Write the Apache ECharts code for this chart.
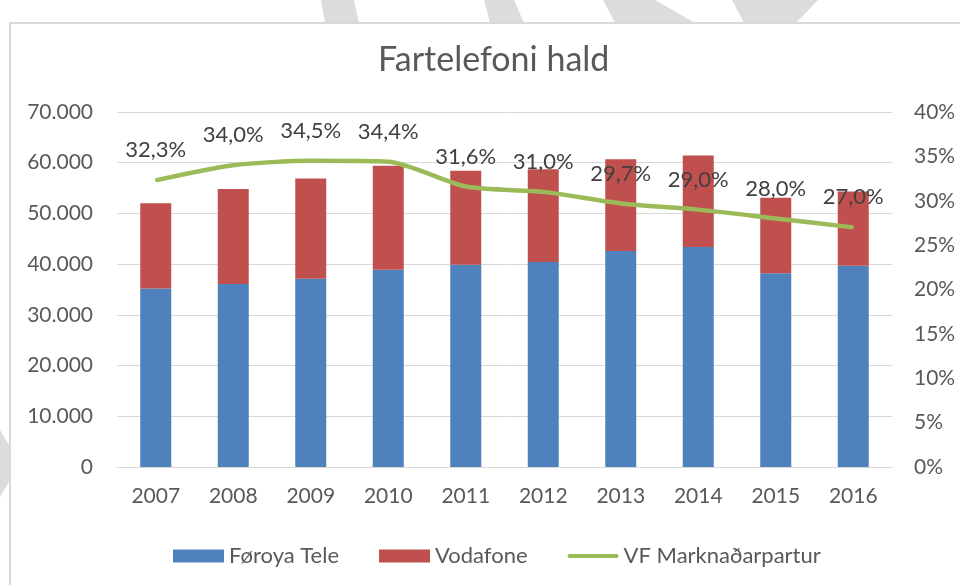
<!DOCTYPE html>
<html>
<head>
<meta charset="utf-8">
<title>Fartelefoni hald</title>
<script src="https://cdn.jsdelivr.net/npm/echarts@6/dist/echarts.min.js"></script>
<style>
  html, body { margin: 0; padding: 0; background: #fff; }
  #container { width: 960px; height: 585px; }
</style>
</head>
<body>
<div id="container"></div>
<script>
  // ár
  const years = ['2007', '2008', '2009', '2010', '2011', '2012', '2013', '2014', '2015', '2016'];
  // tal av haldum
  const foroyaTele = [35200, 36100, 37100, 38900, 39900, 40400, 42600, 43400, 38200, 39700];
  const vodafone = [16800, 18700, 19800, 20500, 18500, 18300, 18100, 18000, 14900, 14600];
  // marknaðarpartur hjá Vodafone, %
  const vfShare = [32.3, 34.0, 34.5, 34.4, 31.6, 31.0, 29.7, 29.0, 28.0, 27.0];

  const fontFamily = 'Lato, "Open Sans", sans-serif';
  const textColor = '#595959';

  function thousands(v) {
    return String(v).replace(/\B(?=(\d{3})+(?!\d))/g, '.');
  }

  // grá strik uttanfyri rammuna (úr myndini)
  function stripe(points) {
    return { type: 'polygon', z: -2, shape: { points: points }, style: { fill: '#dcdcdc' } };
  }

  const chart = echarts.init(document.getElementById('container'), null, { renderer: 'canvas' });

  chart.setOption({
    backgroundColor: '#fff',
    animation: false,
    textStyle: { fontFamily: fontFamily },
    graphic: [
      stripe([[321, 0], [354, 0], [359, 23], [325, 23]]),
      stripe([[484, 0], [514, 0], [524, 23], [490, 23]]),
      stripe([[603, 0], [655, 0], [695, 23], [615, 23]]),
      stripe([[732, 0], [818, 0], [796, 23], [744, 23]]),
      stripe([[0, 430], [9, 445], [9, 482], [0, 497]]),
      {
        type: 'rect',
        z: -1,
        shape: { x: 10, y: 23, width: 960, height: 580 },
        style: { fill: '#fff', stroke: '#d9d9d9', lineWidth: 2 }
      }
    ],
    title: {
      text: 'Fartelefoni hald',
      left: 373,
      top: 38,
      textStyle: { color: textColor, fontSize: 34, fontWeight: 'normal', fontFamily: fontFamily }
    },
    legend: {
      left: 168,
      top: 540,
      itemWidth: 51,
      itemHeight: 13,
      itemGap: 40,
      textStyle: { color: textColor, fontSize: 22, fontFamily: fontFamily },
      data: [
        { name: 'Føroya Tele', icon: 'rect' },
        { name: 'Vodafone', icon: 'rect' },
        { name: 'VF Marknaðarpartur', icon: 'path://M2,0 L50,0 A2,2 0 0 1 50,4 L2,4 A2,2 0 0 1 2,0 Z' }
      ]
    },
    grid: { left: 117, right: 68, top: 112, bottom: 118 },
    xAxis: {
      type: 'category',
      data: years,
      axisLine: { lineStyle: { color: '#d9d9d9' } },
      axisTick: { show: false },
      axisLabel: { color: textColor, fontSize: 21, margin: 19 }
    },
    yAxis: [{
      type: 'value',
      min: 0,
      max: 70000,
      interval: 10000,
      axisLine: { show: false },
      axisTick: { show: false },
      splitLine: { lineStyle: { color: '#d9d9d9' } },
      axisLabel: { color: textColor, fontSize: 21, margin: 24, formatter: thousands }
    }, {
      type: 'value',
      min: 0,
      max: 40,
      interval: 5,
      axisLine: { show: false },
      axisTick: { show: false },
      splitLine: { show: false },
      axisLabel: { color: textColor, fontSize: 21, margin: 22, formatter: '{value}%' }
    }],
    series: [{
      name: 'Føroya Tele',
      type: 'bar',
      stack: 'hald',
      barWidth: '40%',
      itemStyle: { color: '#4F81BD' },
      data: foroyaTele
    }, {
      name: 'Vodafone',
      type: 'bar',
      stack: 'hald',
      itemStyle: { color: '#C0504D' },
      data: vodafone
    }, {
      name: 'VF Marknaðarpartur',
      type: 'line',
      yAxisIndex: 1,
      smooth: 0.25,
      symbol: 'circle',
      symbolSize: 2,
      showSymbol: true,
      showAllSymbol: true,
      lineStyle: { color: '#9BBB59', width: 4.5 },
      itemStyle: { color: '#9BBB59' },
      label: {
        show: true,
        position: 'top',
        distance: 18,
        color: '#404040',
        fontSize: 22,
        formatter: p => p.value.toFixed(1).replace('.', ',') + '%'
      },
      labelLayout: { hideOverlap: false },
      data: vfShare
    }]
  });

  window.addEventListener('resize', () => chart.resize());
</script>
</body>
</html>
